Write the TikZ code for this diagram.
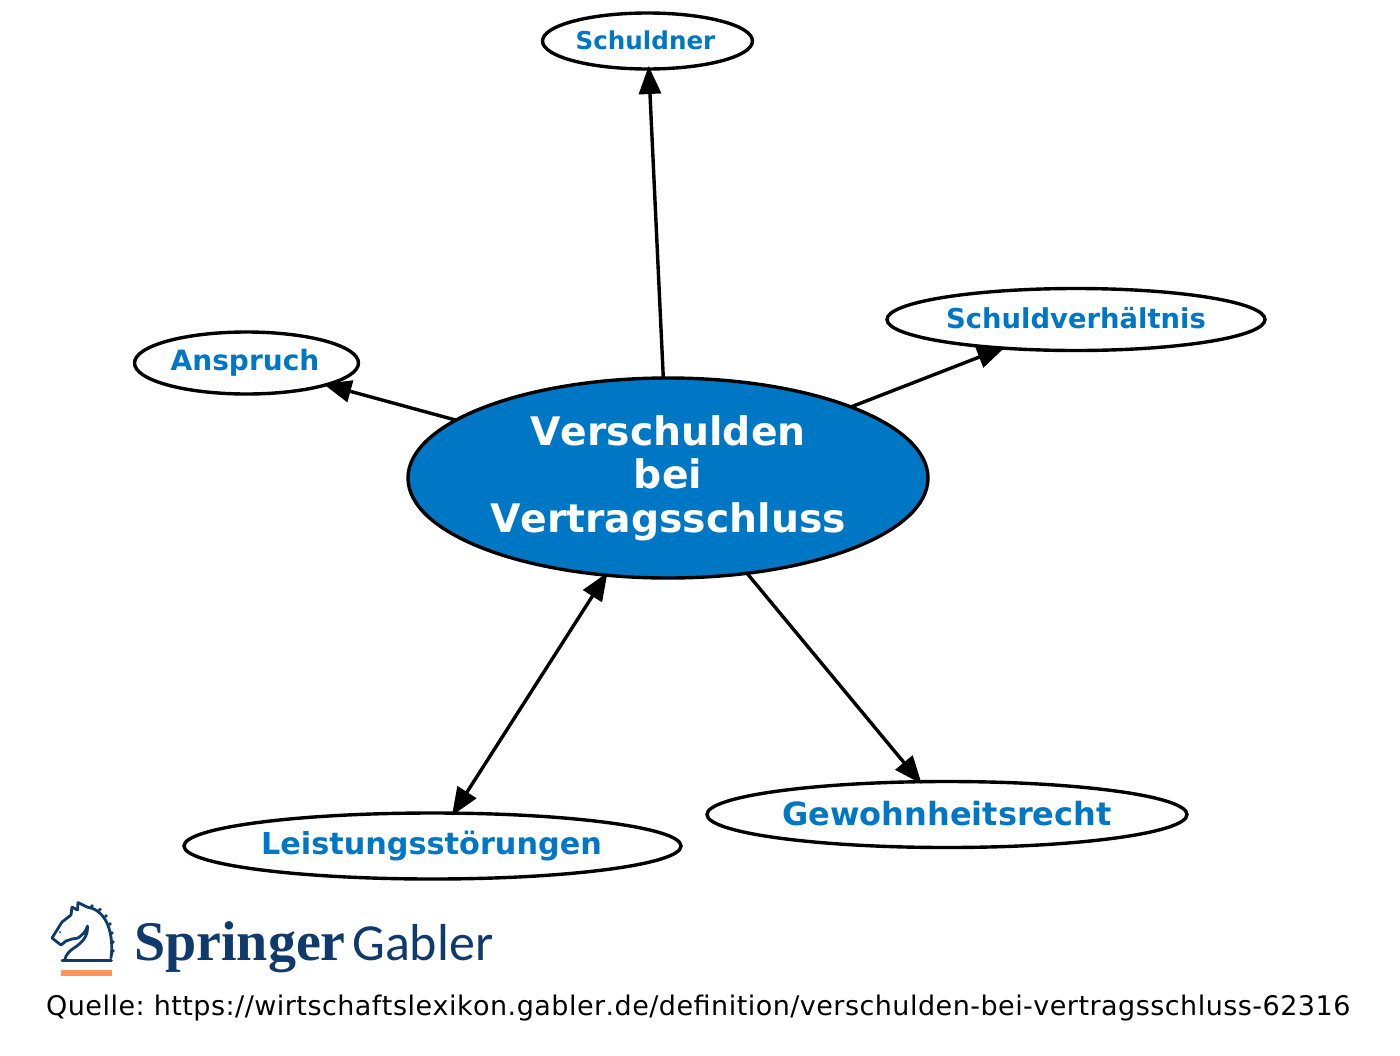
\documentclass[tikz,border=0pt]{standalone}
\usepackage{fontspec}
\setmainfont{DejaVu Sans}[Kerning=Off]
\newfontfamily\spaced{DejaVu Sans}[Kerning=Off,LetterSpace=1.75]
\newfontfamily\serifbrand{Liberation Serif}
\newfontfamily\gablerbrand{Carlito}
\usetikzlibrary{shapes.geometric,arrows.meta}
\definecolor{sblue}{HTML}{0077C4}
\definecolor{navy}{HTML}{0F3A6B}
\definecolor{peach}{HTML}{F9955F}
\frenchspacing
\tikzset{
 oval/.style={draw=black,line width=3.4pt,ellipse,inner sep=0pt,outer sep=0pt,fill=white,text=sblue,align=center},
 arr/.style={draw=black,line width=3.4pt,-{Triangle[length=28pt,width=22pt]},shorten >=-3pt},
 arrb/.style={draw=black,line width=3.4pt,{Triangle[length=28pt,width=22pt]}-{Triangle[length=28pt,width=22pt]},shorten >=-3pt,shorten <=-3pt},
}
\begin{document}
\begin{tikzpicture}[x=1pt,y=-1pt]
\useasboundingbox (0,0) rectangle (1400,1055);
\node[oval,minimum width=520pt,minimum height=200pt,fill=sblue,text=white,font=\fontsize{39.3}{43.5}\selectfont\bfseries] (main) at (668,478) {Verschulden\\bei\\Vertragsschluss};
\node[oval,minimum width=210pt,minimum height=56pt,font=\fontsize{24.6}{30}\selectfont\bfseries] (schuldner) at (647.5,41) {\raisebox{2pt}{Schuldner}\hspace*{4pt}};
\node[oval,minimum width=224pt,minimum height=62pt,font=\fontsize{28}{30}\selectfont\bfseries] (anspruch) at (246.5,363) {Anspruch\hspace*{3pt}};
\node[oval,minimum width=378pt,minimum height=62pt,font=\fontsize{27.4}{30}\selectfont\bfseries] (verh) at (1076,319.5) {\raisebox{3pt}{Schuldverhältnis}};
\node[oval,minimum width=497pt,minimum height=66pt,font=\fontsize{30.3}{30}\selectfont\bfseries] (leist) at (432.5,846) {Leistungsstörungen\hspace*{2pt}};
\node[oval,minimum width=480pt,minimum height=66pt,font=\fontsize{32}{30}\selectfont\bfseries] (gew) at (947,814.5) {\raisebox{3pt}{Gewohnheitsrecht}};
\draw[arr] (main) -- (schuldner);
\draw[arr] (main) -- (anspruch);
\draw[arr] (main) -- (verh);
\draw[arr] (main) -- (gew);
\draw[arrb] (main) -- (leist);
% logo
\fill[peach] (61,970) rectangle (112,976);
\draw[navy,line width=2.8pt,line join=round,line cap=round]
 (62,960.5) -- (111.5,960.5)
 (111,958) .. controls (113,945) and (111,930) .. (106,921)
 .. controls (101,912) and (94,908) .. (87,907)
 -- (78,902.5) -- (77.5,910) -- (72,907) -- (71,915) -- (62,922) -- (52,938)
 -- (61,945) -- (66,941) -- (72,939) -- (78,938) .. controls (82,935) and (86,932) .. (87.5,926)
 (87.5,926) .. controls (88,936) and (83,942) .. (74,948) .. controls (69,951) and (66,955) .. (65,959);
\fill[navy] (92,906) circle (1.8pt) (100,909.5) circle (1.8pt) (106,916) circle (1.8pt) (110,924) circle (1.8pt) (112,933) circle (1.8pt) (113,942) circle (1.8pt) (113,951) circle (1.8pt) (60,932) circle (1pt);
\node[anchor=base west,inner sep=0pt,text=navy,font=\serifbrand\fontsize{56}{56}\selectfont\bfseries] (springer) at (134,960) {Springer};
\node[anchor=base west,inner sep=0pt,text=navy,font=\gablerbrand\fontsize{52}{52}\selectfont] (gabler) at (352,960) {Gabler};
\node[anchor=base west,inner sep=0pt,text=black,font=\spaced\fontsize{27}{30}\selectfont] (src) at (46,1015) {Quelle: https://wirtschaftslexikon.gabler.de/definition/verschulden-bei-vertragsschluss-62316};
\end{tikzpicture}
\end{document}
